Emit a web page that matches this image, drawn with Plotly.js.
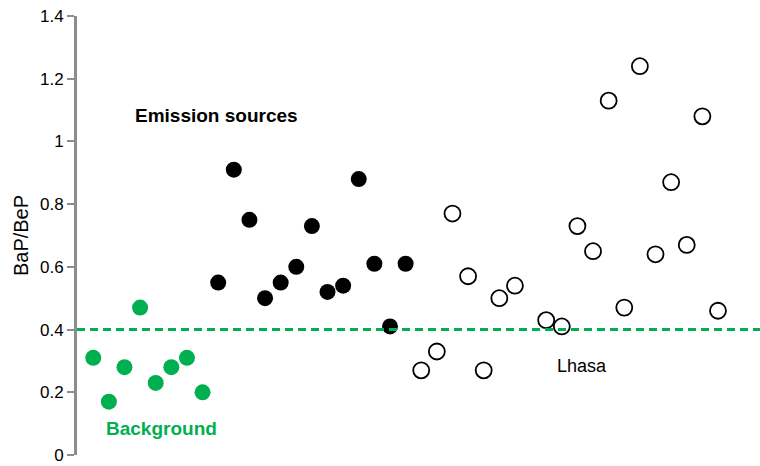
<!DOCTYPE html>
<html>
<head>
<meta charset="utf-8">
<script src="https://cdn.plot.ly/plotly-3.0.1.min.js"></script>
<style>
  html, body { margin: 0; padding: 0; background: #fff; }
  #chart { width: 760px; height: 466px; }
</style>
</head>
<body>
<div id="chart"></div>
<script>
// Sample positions (ordinal) and BaP/BeP ratios for each group
const backgroundX = [1, 2, 3, 4, 5, 6, 7, 8];
const backgroundY = [0.31, 0.17, 0.28, 0.47, 0.23, 0.28, 0.31, 0.20];

const emissionX = [9, 10, 11, 12, 13, 14, 15, 16, 17, 18, 19, 20, 21];
const emissionY = [0.55, 0.91, 0.75, 0.50, 0.55, 0.60, 0.73, 0.52, 0.54, 0.88, 0.61, 0.41, 0.61];

const lhasaX = [22, 23, 24, 25, 26, 27, 28, 30, 31, 32, 33, 34, 35, 36, 37, 38, 39, 40, 41];
const lhasaY = [0.27, 0.33, 0.77, 0.57, 0.27, 0.50, 0.54, 0.43, 0.41, 0.73, 0.65, 1.13, 0.47, 1.24, 0.64, 0.87, 0.67, 1.08, 0.46];

const threshold = 0.4;
const yTicks = [0, 0.2, 0.4, 0.6, 0.8, 1, 1.2, 1.4];

const green = '#00b050';
const font = 'Liberation Sans, Arial, Helvetica, sans-serif';

const traces = [
  {
    x: backgroundX, y: backgroundY, type: 'scatter', mode: 'markers',
    marker: { size: 16, color: green, line: { width: 0 } },
    cliponaxis: false, hoverinfo: 'y'
  },
  {
    x: emissionX, y: emissionY, type: 'scatter', mode: 'markers',
    marker: { size: 16, color: '#000', line: { width: 0 } },
    cliponaxis: false, hoverinfo: 'y'
  },
  {
    x: lhasaX, y: lhasaY, type: 'scatter', mode: 'markers',
    marker: { size: 16, color: '#fff', line: { width: 1.8, color: '#000' } },
    cliponaxis: false, hoverinfo: 'y'
  }
];

const layout = {
  width: 760, height: 466,
  margin: { l: 77, r: 0, t: 16, b: 11 },
  paper_bgcolor: '#fff', plot_bgcolor: '#fff',
  showlegend: false,
  font: { family: font, size: 17, color: '#000' },
  xaxis: {
    range: [-0.04, 43.69],
    showgrid: false, zeroline: false, showline: false,
    showticklabels: false, ticks: ''
  },
  yaxis: {
    range: [0, 1.4],
    tickvals: yTicks,
    ticktext: yTicks.map(v => String(v)),
    showgrid: false, zeroline: false,
    showline: true, linecolor: '#8c8c8c', linewidth: 3,
    ticks: 'outside', ticklen: 7, tickwidth: 2, tickcolor: '#8c8c8c',
    tickfont: { family: font, size: 17, color: '#000' },
    title: { text: 'BaP/BeP', font: { family: font, size: 20, color: '#000' }, standoff: 6 }
  },
  shapes: [
    {
      type: 'line', xref: 'paper', x0: 0, x1: 1, yref: 'y', y0: threshold, y1: threshold,
      line: { color: green, width: 3, dash: '8px,5px' }, layer: 'above'
    }
  ],
  annotations: [
    {
      x: 8.89, y: 1.083, xref: 'x', yref: 'y', showarrow: false,
      text: '<b>Emission sources</b>',
      font: { family: font, size: 19, color: '#000' }
    },
    {
      x: 5.40, y: 0.086, xref: 'x', yref: 'y', showarrow: false,
      text: '<b>Background</b>',
      font: { family: font, size: 19, color: green }
    },
    {
      x: 32.29, y: 0.284, xref: 'x', yref: 'y', showarrow: false,
      text: 'Lhasa',
      font: { family: font, size: 18, color: '#000' }
    }
  ]
};

Plotly.newPlot('chart', traces, layout, { staticPlot: true, displayModeBar: false });
</script>
</body>
</html>
